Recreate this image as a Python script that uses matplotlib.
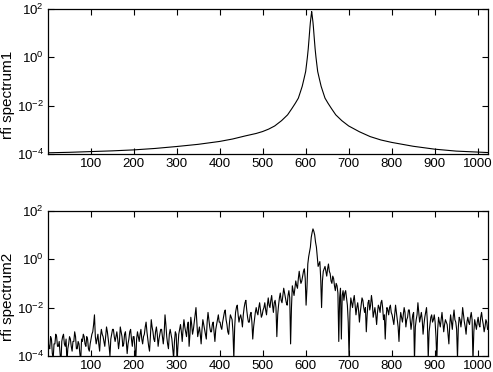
import matplotlib
matplotlib.use("Agg")
import matplotlib.pyplot as plt
import numpy as np

#
# Two rfi spectra on log scale, MATLAB-style subplots
#

plt.rcParams['font.family'] = ['Liberation Sans', 'DejaVu Sans']
plt.rcParams['mathtext.fontset'] = 'custom'
plt.rcParams['mathtext.rm'] = 'Liberation Sans'
plt.rcParams['mathtext.it'] = 'Liberation Sans'

# spectrum 1: bin, log10(power)
spec1_bin = [1, 50, 100, 150, 200, 250, 300, 350, 400, 430, 460, 485, 500,
             514, 528, 544, 558, 568, 576, 583, 588, 592, 596, 600, 602, 604,
             606, 608, 609, 610, 611, 612, 613, 614, 615, 616, 617, 618, 619,
             620, 622, 624, 626, 628, 632, 636, 640, 645, 652, 660, 670, 684,
             700, 725, 750, 775, 800, 850, 900, 950, 1000, 1024]
spec1_log = [-3.95, -3.93, -3.90, -3.87, -3.83, -3.77, -3.69, -3.60, -3.48,
             -3.38, -3.25, -3.15, -3.07, -2.97, -2.84, -2.62, -2.38, -2.12,
             -1.90, -1.69, -1.42, -1.20, -0.90, -0.59, -0.30, 0.00, 0.35,
             0.79, 1.02, 1.25, 1.45, 1.60, 1.75, 1.89, 1.75, 1.60, 1.45,
             1.25, 1.02, 0.79, 0.35, 0.00, -0.30, -0.59, -0.90, -1.20, -1.42,
             -1.69, -1.90, -2.12, -2.38, -2.62, -2.84, -3.08, -3.28, -3.42,
             -3.52, -3.68, -3.80, -3.88, -3.92, -3.94]

# spectrum 2: log10(power) every 2nd bin (1, 3, ..., 1023)
spec2_log = [
    # 1 - 99
    -3.4, -3.6, -3.7, -3.2, -3.3, -3.9, -4.1, -3.5, -3.5, -3.1,
    -3.2, -3.6, -3.6, -3.4, -3.9, -4.3, -3.4, -3.2, -3.1, -3.5,
    -3.6, -3.3, -4.3, -3.7, -3.5, -3.2, -3.3, -3.6, -3.8, -3.4,
    -3.4, -3.0, -3.2, -3.7, -3.7, -3.4, -3.5, -3.9, -4.2, -3.3,
    -3.4, -3.1, -3.2, -3.5, -3.6, -3.2, -3.3, -3.7, -3.8, -3.5,
    # 101 - 199
    -3.3, -3.1, -3.0, -2.7, -2.3, -3.2, -3.5, -3.3, -3.1, -3.5,
    -3.8, -3.2, -2.9, -3.1, -3.2, -3.4, -3.6, -3.2, -2.8, -3.0,
    -3.3, -3.6, -4.0, -3.3, -3.1, -2.9, -2.9, -3.2, -3.4, -3.2,
    -3.0, -3.3, -3.7, -3.4, -2.8, -3.0, -3.2, -3.6, -3.5, -3.1,
    -3.0, -3.4, -3.9, -3.5, -3.3, -3.0, -2.9, -3.3, -3.6, -3.2,
    # 201 - 299
    -3.2, -3.7, -4.2, -3.3, -3.0, -3.2, -3.4, -3.1, -2.9, -3.3,
    -3.5, -3.2, -3.1, -2.8, -2.6, -3.0, -3.3, -3.6, -3.8, -3.2,
    -2.5, -2.8, -3.0, -3.3, -3.4, -3.0, -2.8, -3.1, -3.6, -3.3,
    -3.1, -2.9, -2.9, -3.2, -3.5, -3.1, -2.3, -2.7, -3.2, -3.5,
    -3.7, -3.1, -2.9, -3.1, -3.3, -3.7, -4.1, -3.4, -3.0, -3.1,
    # 301 - 399
    -4.2, -3.6, -3.1, -2.9, -2.7, -3.0, -3.4, -2.9, -2.5, -2.8,
    -3.0, -3.2, -2.8, -2.6, -3.6, -3.1, -2.4, -2.7, -3.1, -2.9,
    -2.6, -2.3, -2.0, -2.6, -3.2, -3.0, -2.8, -3.1, -3.5, -2.9,
    -2.5, -2.7, -2.9, -3.1, -3.3, -2.6, -2.2, -2.5, -2.8, -3.0,
    -3.0, -2.7, -2.6, -3.0, -3.4, -2.9, -2.7, -2.5, -2.3, -2.6,
    # 401 - 499
    -2.6, -2.8, -2.9, -2.6, -2.4, -2.2, -2.1, -2.5, -2.7, -3.0,
    -3.1, -2.6, -2.3, -2.4, -2.5, -3.0, -4.1, -2.8, -2.2, -2.0,
    -1.9, -2.3, -2.6, -2.4, -2.3, -2.5, -2.8, -2.3, -2.0, -1.8,
    -1.7, -2.1, -2.4, -2.6, -2.6, -2.3, -2.2, -2.6, -3.3, -2.8,
    -2.5, -2.2, -2.0, -2.2, -2.3, -2.0, -1.8, -2.1, -2.4, -2.3,
    # 501 - 599
    -2.1, -2.0, -1.8, -2.1, -2.3, -1.9, -1.6, -1.9, -2.0, -1.7,
    -1.5, -1.9, -2.2, -1.8, -1.7, -2.0, -3.2, -2.3, -1.9, -1.6,
    -1.4, -1.7, -1.8, -1.5, -1.2, -1.4, -1.6, -1.8, -1.9, -1.5,
    -1.3, -1.6, -3.5, -2.0, -1.1, -1.3, -1.5, -1.2, -0.9, -1.1,
    -1.2, -0.8, -0.5, -0.8, -1.0, -0.9, -0.7, -0.5, -0.4, -0.8,
    # 601 - 699
    -1.9, -1.2, -0.2, 0.1, 0.3, 0.5, 0.9, 1.1, 1.25, 1.15,
    1.0, 0.7, 0.5, 0.1, -0.3, -0.2, -0.1, -0.8, -2.0, -0.9,
    -0.5, -0.4, -0.3, -0.5, -0.7, -0.4, -0.2, -0.5, -0.6, -0.9,
    -1.0, -0.7, -0.8, -1.1, -1.3, -1.0, -1.1, -1.4, -3.4, -1.6,
    -1.2, -3.3, -1.5, -1.3, -1.7, -1.4, -1.3, -1.6, -1.9, -2.6,
    # 701 - 799
    -4.1, -2.2, -1.6, -1.8, -2.0, -1.7, -1.5, -1.9, -2.3, -2.0,
    -1.8, -2.1, -2.6, -2.2, -1.9, -1.6, -1.7, -2.0, -2.2, -2.0,
    -3.0, -2.3, -1.8, -1.7, -2.1, -1.9, -1.5, -1.8, -2.4, -2.2,
    -2.0, -2.3, -2.7, -2.2, -1.9, -2.0, -2.2, -1.8, -1.7, -2.0,
    -2.5, -2.3, -3.3, -2.4, -2.0, -2.1, -2.3, -2.0, -1.9, -2.2,
    # 801 - 899
    -2.3, -2.5, -2.7, -2.3, -1.9, -2.2, -2.5, -2.8, -3.4, -2.6,
    -2.2, -2.4, -2.6, -2.3, -2.0, -2.2, -2.8, -2.5, -2.4, -2.1,
    -2.1, -2.5, -2.9, -2.6, -2.3, -2.2, -4.2, -2.8, -2.5, -2.3,
    -1.8, -2.2, -2.6, -2.4, -2.2, -2.5, -3.1, -2.7, -2.4, -2.2,
    -2.0, -2.6, -4.1, -3.0, -2.7, -2.4, -2.3, -2.6, -2.5, -2.3,
    # 901 - 999
    -2.6, -3.2, -4.2, -2.9, -2.4, -2.6, -2.8, -2.5, -2.2, -2.6,
    -3.0, -2.7, -2.5, -2.6, -2.7, -3.1, -3.5, -2.7, -2.3, -2.6,
    -2.9, -2.4, -2.1, -2.5, -2.6, -2.9, -4.1, -2.8, -2.4, -2.5,
    -2.8, -2.5, -2.0, -2.3, -2.6, -2.8, -3.1, -2.6, -2.4, -2.6,
    -2.7, -2.4, -2.2, -2.5, -4.2, -3.0, -2.5, -2.7, -2.9, -2.6,
    # 1001 - 1023
    -2.4, -2.7, -2.8, -2.4, -2.2, -2.5, -2.7, -3.0, -2.8, -2.5,
    -2.6, -2.9,
]
spec2_bin = np.arange(1, 2 * len(spec2_log), 2)

xticks = [100, 200, 300, 400, 500, 600, 700, 800, 900, 1000]
yticks = [1e-4, 1e-2, 1e0, 1e2]


def style(ax, label):
    ax.set_yscale('log')
    ax.set_xlim(1, 1024)
    ax.set_ylim(1e-4, 1e2)
    ax.set_xticks(xticks)
    ax.set_yticks(yticks)
    ax.yaxis.set_minor_locator(matplotlib.ticker.NullLocator())
    ax.tick_params(direction='in', top=True, right=True, length=4,
                   width=0.8, labelsize=9.5, pad=3)
    for s in ax.spines.values():
        s.set_linewidth(0.9)
    ax.set_ylabel(label, fontsize=11)
    ax.yaxis.set_label_coords(-0.074, 0.41)


fig = plt.figure(figsize=(4.93, 3.72), dpi=100)
ax1 = fig.add_axes([0.0974, 0.586, 0.8925, 0.390])
ax2 = fig.add_axes([0.0974, 0.043, 0.8925, 0.3905])

ax1.plot(spec1_bin, 10.0 ** np.array(spec1_log), color='k', lw=0.8)
style(ax1, 'rfi spectrum1')

ax2.plot(spec2_bin, 10.0 ** np.array(spec2_log), color='k', lw=0.8)
style(ax2, 'rfi spectrum2')

fig.savefig('out.png', dpi=100)
